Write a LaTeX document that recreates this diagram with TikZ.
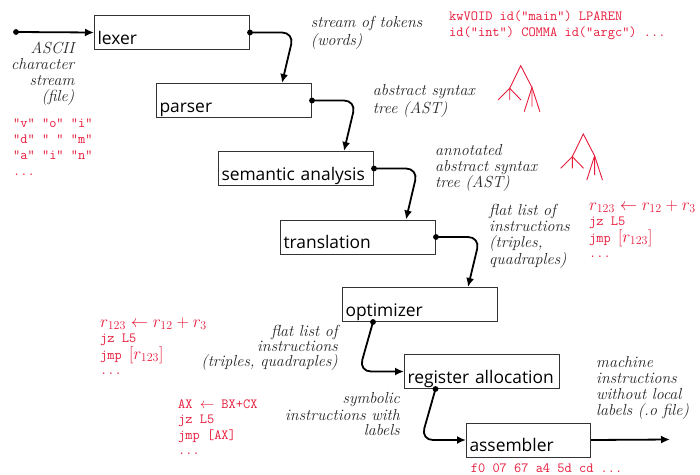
\documentclass[tikz,border=0pt]{standalone}
\usepackage{fontspec}
\newfontfamily\boxfont{Open Sans}
\usetikzlibrary{arrows.meta,calc}
\definecolor{cred}{RGB}{232,28,60}
\newcommand\redmath[1]{{\fontsize{16.8}{15}\selectfont$#1$}}
\tikzset{
  ast/.pic={
    \draw[cred, line width=0.9pt] (-11,34.3) -- (-11,22.6) -- (0,0) -- (11.3,21.8) -- (11.3,41);
    \draw[cred, line width=0.9pt] (-22.6,34.3) -- (-11,22.6) -- (0.3,34.3);
    \draw[cred, line width=0.9pt] (3.5,46) -- (11.3,21.8) -- (19.2,46);
  }
}
\begin{document}
\begin{tikzpicture}[x=1pt,y=-1pt,
  stage/.style={draw=black!80, line width=1pt, anchor=north west, inner xsep=3pt, inner ysep=0pt,
    text width=149pt, align=left, text height=28.5pt, text depth=5.5pt,
    font=\boxfont\fontsize{17.4}{20}\selectfont},
  lab/.style={inner sep=0pt, font=\itshape\fontsize{16}{16}\selectfont, text=black!85},
  code/.style={inner sep=0pt, font=\ttfamily\fontsize{14}{16}\selectfont, text=cred, align=left, anchor=north west},
  flow/.style={line width=1.8pt, -{Latex[length=9pt,width=8pt]}, rounded corners=12pt},
  dot/.style={circle, fill, inner sep=0pt, minimum size=5.8pt}
]
\fill[white] (0,0) rectangle (700,474);
\useasboundingbox (0,0) rectangle (700,474);

% stages
\node[stage] (lex) at (94,15) {lexer};
\node[stage] (par) at (156,83) {parser};
\node[stage] (sem) at (218,151) {semantic analysis};
\node[stage] (tra) at (280,219.5) {translation};
\node[stage] (opt) at (342,287) {optimizer};
\node[stage] (reg) at (404,354) {register allocation};
\node[stage, text width=118pt] (asm) at (466,422.5) {assembler};

% connectors
\node[dot] (src) at (16,32) {};
\draw[flow] (src.center) -- (lex.west);

\node[dot] (d1) at (lex.east) {};
\draw[flow] (d1.center) -- ++(44,0) -- ($(par.north east)+(-30,0)$);
\node[dot] (d2) at (par.east) {};
\draw[flow] (d2.center) -- ++(44,0) -- ($(sem.north east)+(-30,0)$);
\node[dot] (d3) at (sem.east) {};
\draw[flow] (d3.center) -- ++(44,0) -- ($(tra.north east)+(-30,0)$);
\node[dot] (d4) at (tra.east) {};
\draw[flow] (d4.center) -- ++(44,0) -- ($(opt.north east)+(-30,0)$);
\node[dot] (d5) at ($(opt.south west)+(31,0)$) {};
\draw[flow] (d5.center) -- ($(reg.west)+(-45,0)$) -- (reg.west);
\node[dot] (d6) at ($(reg.south west)+(31.5,0)$) {};
\draw[flow] (d6.center) -- ($(asm.west)+(-45,0)$) -- (asm.west);
\coordinate (out) at (670,439.5);
\draw[flow] (asm.east) -- (out);

% labels
\node[lab, align=right, anchor=north east] (l0) at (74.5,41.8) {\strut ASCII\\character\\stream\\(file)};
\node[code] (c0) at (13,115.8) {\strut"v" "o" "i"\\"d" " " "m"\\"a" "i" "n"\\...};

\node[lab, align=left, anchor=north west] (l1) at (310.7,15.8) {\strut stream of tokens\\(words)};
\node[code] (c1) at (449,8.8) {\strut kwVOID id("main") LPAREN\\id("int") COMMA id("argc") ...};

\node[lab, align=left, anchor=north west] (l2) at (372.7,83.8) {\strut abstract syntax\\tree (AST)};
\pic (t1) at (520.7,65.7) {ast};

\node[lab, align=left, anchor=north west] (l3) at (435,143.8) {\strut annotated\\abstract syntax\\tree (AST)};
\pic (t2) at (583.3,134) {ast};

\node[lab, align=left, anchor=north west] (l4) at (489,203.8) {\strut flat list of\\instructions\\(triples,\\quadraples)};
\node[code, font=\ttfamily\fontsize{14}{15}\selectfont] (c4) at (589,199.5) {\strut\redmath{r_{123}\leftarrow r_{12}+r_3}\\jz L5\\jmp \redmath{[r_{123}]}\\...};

\node[code, font=\ttfamily\fontsize{14}{15}\selectfont] (c5) at (100,316.5) {\strut\redmath{r_{123}\leftarrow r_{12}+r_3}\\jz L5\\jmp \redmath{[r_{123}]}\\...};
\node[lab, font=\itshape\fontsize{16}{15}\selectfont, align=right, anchor=north east] (l5) at (338,325.5) {\strut flat list of\\instructions\\(triples, quadraples)};

\node[code, font=\ttfamily\fontsize{14}{15.5}\selectfont] (c6) at (178,397) {\strut AX $\leftarrow$ BX+CX\\jz L5\\jmp [AX]\\...};
\node[lab, font=\itshape\fontsize{16}{15}\selectfont, align=right, anchor=north east] (l6) at (400,392.5) {\strut symbolic\\instructions with\\labels};

\node[lab, align=left, anchor=north west] (l7) at (596,355.8) {\strut machine\\instructions\\without local\\labels (.o file)};
\node[code] (c7) at (470.7,460.8) {\strut f0 07 67 a4 5d cd ...};
\end{tikzpicture}
\end{document}
